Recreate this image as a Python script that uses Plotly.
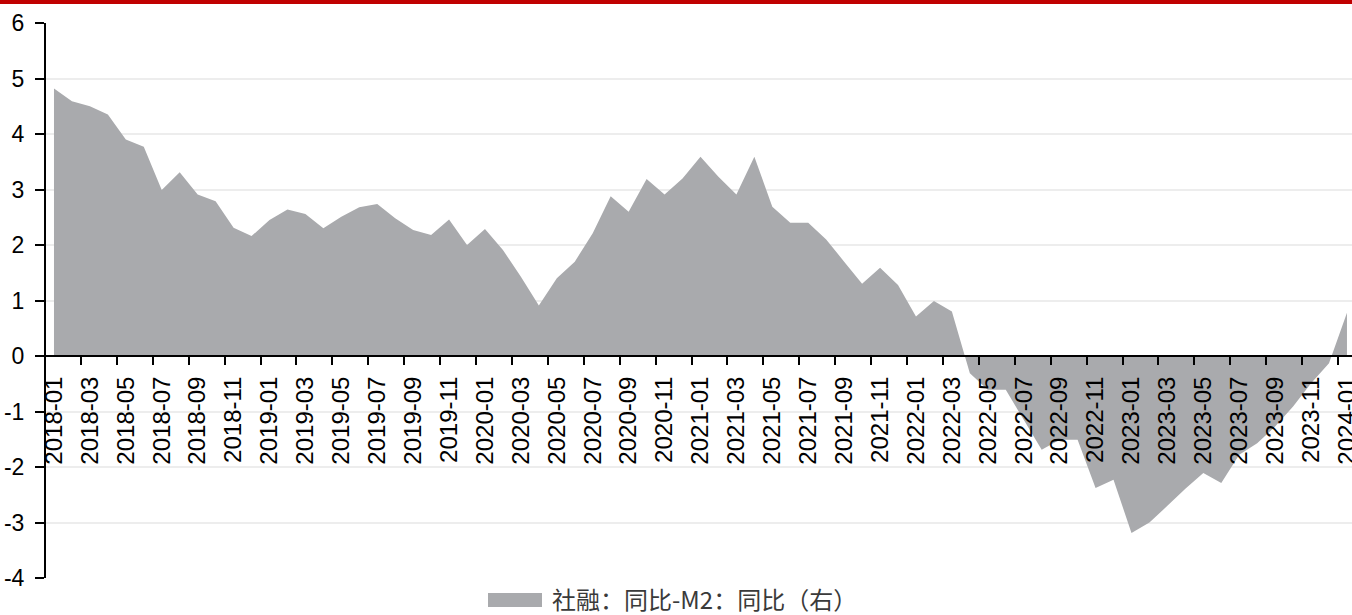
import plotly.graph_objects as go

# ---- data ----
months = [f"{y}-{m:02d}" for y in range(2018, 2024) for m in range(1, 13)] + ["2024-01"]
values_2018 = [4.82, 4.59, 4.50, 4.35, 3.90, 3.77, 2.99, 3.31, 2.91, 2.79, 2.31, 2.16]
values_2019 = [2.45, 2.64, 2.56, 2.30, 2.51, 2.68, 2.74, 2.48, 2.27, 2.18, 2.46, 2.00]
values_2020 = [2.29, 1.91, 1.43, 0.91, 1.40, 1.70, 2.21, 2.88, 2.60, 3.19, 2.91, 3.20]
values_2021 = [3.59, 3.23, 2.91, 3.59, 2.69, 2.40, 2.40, 2.10, 1.70, 1.30, 1.59, 1.28]
values_2022 = [0.71, 0.99, 0.80, -0.31, -0.61, -0.61, -1.15, -1.69, -1.51, -1.51, -2.38, -2.23]
values_2023 = [-3.19, -3.00, -2.70, -2.39, -2.11, -2.29, -1.78, -1.57, -1.27, -0.91, -0.49, -0.13]
values_2024 = [0.78]
spread = values_2018 + values_2019 + values_2020 + values_2021 + values_2022 + values_2023 + values_2024
series_name = "社融：同比-M2：同比（右）"
y_ticks = [-4, -3, -2, -1, 0, 1, 2, 3, 4, 5, 6]
y_tick_text = ["-4", "-3", "-2", "-1", "0", "1", "2", "3", "4", "5", "6"]

idx = list(range(len(months)))
label_vals = idx[::2]
label_text = months[::2]
boundary_ticks = [i - 0.5 for i in idx[2::2]]

W, H = 1352, 615
ML, MR, MT, MB = 46, 0, 23, 37
PW, PH = W - ML - MR, H - MT - MB
x_range = [-0.445, len(months) - 1 + 0.28]
y_range = [-4, 6]
zero_pos = (0 - y_range[0]) / (y_range[1] - y_range[0])


def px_x(px):
    return (px - ML) / PW


def px_y(py):
    return (H - MB - py) / PH


FILL = "#A9AAAD"
XTICKFONT = dict(size=24, family="Liberation Sans, Arial, sans-serif", color="#000000")
YTICKFONT = dict(size=23, family="Liberation Sans, Arial, sans-serif", color="#000000")

fig = go.Figure()
fig.add_trace(go.Scatter(
    x=idx, y=spread, mode="lines", fill="tozeroy",
    line=dict(width=0, color=FILL), fillcolor=FILL,
    name=series_name, showlegend=False, hoverinfo="x+y",
))
# helper trace for boundary tick axis
fig.add_trace(go.Scatter(
    x=[idx[0], idx[-1]], y=[0, 0], xaxis="x2", mode="lines",
    line=dict(width=0, color="rgba(0,0,0,0)"), showlegend=False, hoverinfo="skip",
))

fig.update_layout(
    width=W, height=H,
    margin=dict(l=ML, r=MR, t=MT, b=MB, pad=0, autoexpand=False),
    paper_bgcolor="white", plot_bgcolor="white",
    font=dict(family="Liberation Sans, Arial, sans-serif", color="#000000"),
    showlegend=False,
    xaxis=dict(
        range=x_range, tickmode="array", tickvals=label_vals, ticktext=label_text,
        tickangle=-90, ticks="", showgrid=False, zeroline=False,
        showline=True, linecolor="#000000", linewidth=2,
        anchor="free", position=zero_pos, automargin=False,
        tickfont=XTICKFONT, ticklabelstandoff=10, ticklabeloverflow="allow",
    ),
    xaxis2=dict(
        range=x_range, overlaying="x", matches="x", tickmode="array",
        tickvals=boundary_ticks, showticklabels=False,
        ticks="outside", ticklen=8, tickwidth=2, tickcolor="#000000",
        showgrid=False, zeroline=False, showline=False,
        anchor="free", position=zero_pos, side="bottom",
    ),
    yaxis=dict(
        range=y_range, tickmode="array", tickvals=y_ticks, ticktext=y_tick_text,
        ticks="outside", ticklen=9, tickwidth=2, tickcolor="#000000",
        showline=True, linecolor="#000000", linewidth=2,
        showgrid=True, gridcolor="#EDEDED", gridwidth=2,
        zeroline=False, automargin=False,
        tickfont=YTICKFONT, ticklabelstandoff=6, ticklabeloverflow="allow",
    ),
    shapes=[
        dict(type="rect", xref="paper", yref="paper",
             x0=px_x(0), x1=px_x(W), y0=px_y(4), y1=px_y(0),
             fillcolor="#C00000", line=dict(width=0), layer="above"),
        # legend swatch
        dict(type="rect", xref="paper", yref="paper",
             x0=px_x(488), x1=px_x(542), y0=px_y(607), y1=px_y(593),
             fillcolor=FILL, line=dict(width=0)),
    ],
    annotations=[dict(
        text=series_name, xref="paper", yref="paper",
        x=px_x(550), y=px_y(598), xanchor="left", yanchor="middle",
        showarrow=False,
        font=dict(size=24, family="Noto Sans CJK SC, sans-serif", color="#3A3A3A"),
    )],
)

fig.write_html(
    "out.html",
    config={"displayModeBar": False},
    post_script="document.body.style.margin='0';document.body.style.overflow='hidden';",
)
